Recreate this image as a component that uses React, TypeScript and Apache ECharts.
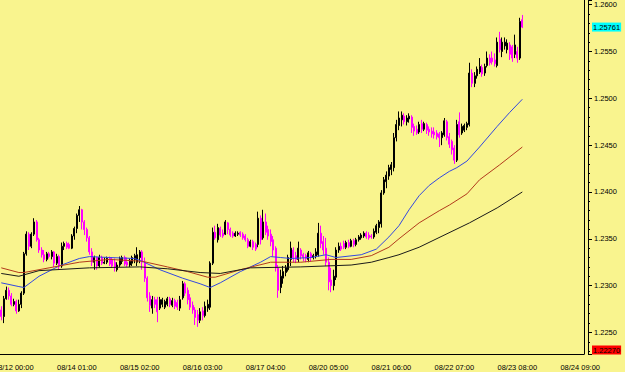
import React, { useEffect, useRef } from "react";
import * as echarts from "echarts";

// x-axis: hourly bars (index), labelled every 25 bars
const barCount = 232;
const timeLabels = ["08/12 00:00", "08/14 01:00", "08/15 02:00", "08/16 03:00", "08/17 04:00", "08/20 05:00", "08/21 06:00", "08/22 07:00", "08/23 08:00", "08/24 09:00"];
const labelBars = [5, 30, 55, 80, 105, 130, 155, 180, 205, 230];
const minorTickBars = [11, 17, 24, 36, 42, 49, 61, 67, 74, 86, 92, 99, 111, 117, 124, 136, 142, 149, 161, 167, 174, 186, 192, 199, 211, 217, 224];

// price axis
const priceMin = 1.2227;
const priceMax = 1.2605;
const lastPrice = 1.25761;
const alertPrice = 1.2227;
const alertText = "1.22270";

// [open, close, low, high]
const ohlc: number[][] = [
  [1.2274,1.2267,1.2263,1.2278],[1.2267,1.2286,1.2260,1.2289],[1.2286,1.2295,1.2285,1.2299],[1.2295,1.2289,1.2285,1.2298],
  [1.2289,1.2280,1.2278,1.2292],[1.2280,1.2283,1.2278,1.2286],[1.2283,1.2273,1.2270,1.2285],[1.2273,1.2280,1.2272,1.2285],
  [1.2280,1.2292,1.2276,1.2294],[1.2292,1.2334,1.2290,1.2336],[1.2334,1.2355,1.2332,1.2358],[1.2355,1.2342,1.2338,1.2357],
  [1.2342,1.2355,1.2340,1.2357],[1.2355,1.2368,1.2353,1.2372],[1.2368,1.2349,1.2347,1.2370],[1.2349,1.2338,1.2335,1.2351],
  [1.2338,1.2333,1.2330,1.2341],[1.2333,1.2328,1.2325,1.2338],[1.2328,1.2334,1.2326,1.2336],[1.2334,1.2331,1.2329,1.2336],
  [1.2331,1.2336,1.2328,1.2338],[1.2336,1.2324,1.2320,1.2337],[1.2324,1.2331,1.2322,1.2334],[1.2331,1.2321,1.2317,1.2333],
  [1.2321,1.2342,1.2319,1.2346],[1.2342,1.2345,1.2338,1.2347],[1.2345,1.2341,1.2339,1.2347],[1.2344,1.2340,1.2339,1.2346],
  [1.2340,1.2353,1.2339,1.2355],[1.2353,1.2361,1.2349,1.2363],[1.2361,1.2375,1.2356,1.2377],[1.2375,1.2381,1.2368,1.2385],
  [1.2381,1.2368,1.2360,1.2382],[1.2368,1.2360,1.2354,1.2370],[1.2360,1.2351,1.2347,1.2362],[1.2351,1.2336,1.2333,1.2353],
  [1.2336,1.2325,1.2321,1.2340],[1.2325,1.2330,1.2317,1.2332],[1.2330,1.2321,1.2317,1.2331],[1.2321,1.2330,1.2319,1.2333],
  [1.2330,1.2324,1.2322,1.2332],[1.2324,1.2325,1.2323,1.2330],[1.2325,1.2329,1.2323,1.2331],[1.2329,1.2323,1.2321,1.2331],
  [1.2328,1.2321,1.2319,1.2330],[1.2325,1.2319,1.2315,1.2329],[1.2317,1.2322,1.2315,1.2325],[1.2322,1.2329,1.2320,1.2331],
  [1.2326,1.2330,1.2323,1.2332],[1.2330,1.2323,1.2321,1.2332],[1.2325,1.2322,1.2320,1.2330],[1.2322,1.2326,1.2320,1.2329],
  [1.2324,1.2330,1.2321,1.2332],[1.2328,1.2332,1.2324,1.2334],[1.2325,1.2333,1.2321,1.2341],[1.2330,1.2336,1.2324,1.2338],
  [1.2336,1.2325,1.2317,1.2338],[1.2325,1.2308,1.2304,1.2330],[1.2308,1.2287,1.2283,1.2310],[1.2289,1.2279,1.2272,1.2293],
  [1.2276,1.2285,1.2270,1.2289],[1.2285,1.2280,1.2276,1.2288],[1.2285,1.2272,1.2261,1.2288],[1.2276,1.2285,1.2274,1.2288],
  [1.2280,1.2285,1.2277,1.2287],[1.2277,1.2283,1.2275,1.2285],[1.2280,1.2286,1.2278,1.2288],[1.2286,1.2280,1.2277,1.2288],
  [1.2279,1.2284,1.2277,1.2287],[1.2284,1.2278,1.2275,1.2286],[1.2282,1.2277,1.2274,1.2285],[1.2276,1.2285,1.2273,1.2289],
  [1.2287,1.2302,1.2285,1.2305],[1.2302,1.2292,1.2289,1.2304],[1.2295,1.2285,1.2280,1.2298],[1.2287,1.2277,1.2274,1.2291],
  [1.2279,1.2274,1.2270,1.2283],[1.2274,1.2266,1.2258,1.2277],[1.2269,1.2263,1.2256,1.2274],[1.2263,1.2272,1.2260,1.2276],
  [1.2273,1.2268,1.2263,1.2277],[1.2268,1.2278,1.2266,1.2283],[1.2276,1.2280,1.2272,1.2285],[1.2277,1.2324,1.2274,1.2326],
  [1.2324,1.2357,1.2322,1.2362],[1.2357,1.2351,1.2349,1.2364],[1.2349,1.2362,1.2346,1.2366],[1.2361,1.2354,1.2352,1.2363],
  [1.2356,1.2353,1.2351,1.2360],[1.2355,1.2368,1.2354,1.2370],[1.2367,1.2360,1.2355,1.2368],[1.2360,1.2354,1.2352,1.2362],
  [1.2356,1.2353,1.2351,1.2358],[1.2353,1.2356,1.2352,1.2358],[1.2355,1.2356,1.2353,1.2358],[1.2357,1.2354,1.2352,1.2358],
  [1.2355,1.2351,1.2349,1.2357],[1.2353,1.2349,1.2347,1.2355],[1.2349,1.2342,1.2340,1.2351],[1.2342,1.2347,1.2341,1.2349],
  [1.2347,1.2341,1.2338,1.2349],[1.2344,1.2339,1.2337,1.2346],[1.2344,1.2372,1.2341,1.2379],[1.2372,1.2349,1.2344,1.2375],
  [1.2351,1.2368,1.2349,1.2381],[1.2368,1.2357,1.2354,1.2377],[1.2360,1.2353,1.2349,1.2364],[1.2355,1.2347,1.2342,1.2360],
  [1.2349,1.2338,1.2331,1.2353],[1.2340,1.2319,1.2315,1.2342],[1.2319,1.2295,1.2287,1.2322],[1.2298,1.2310,1.2292,1.2317],
  [1.2308,1.2315,1.2302,1.2321],[1.2314,1.2319,1.2310,1.2322],[1.2317,1.2330,1.2315,1.2333],[1.2328,1.2340,1.2321,1.2347],
  [1.2338,1.2330,1.2325,1.2341],[1.2332,1.2328,1.2324,1.2336],[1.2328,1.2340,1.2325,1.2347],[1.2338,1.2332,1.2328,1.2340],
  [1.2333,1.2330,1.2326,1.2335],[1.2332,1.2329,1.2325,1.2334],[1.2328,1.2335,1.2325,1.2337],[1.2334,1.2330,1.2326,1.2336],
  [1.2330,1.2332,1.2328,1.2334],[1.2331,1.2336,1.2329,1.2340],[1.2333,1.2356,1.2331,1.2367],[1.2356,1.2345,1.2340,1.2364],
  [1.2347,1.2338,1.2333,1.2353],[1.2340,1.2325,1.2321,1.2351],[1.2325,1.2304,1.2295,1.2330],[1.2306,1.2300,1.2293,1.2319],
  [1.2300,1.2310,1.2295,1.2317],[1.2309,1.2338,1.2306,1.2341],[1.2338,1.2342,1.2335,1.2346],[1.2342,1.2339,1.2337,1.2346],
  [1.2345,1.2341,1.2339,1.2348],[1.2341,1.2346,1.2339,1.2348],[1.2346,1.2342,1.2340,1.2349],[1.2342,1.2348,1.2341,1.2350],
  [1.2348,1.2344,1.2341,1.2350],[1.2344,1.2349,1.2342,1.2351],[1.2349,1.2352,1.2347,1.2354],[1.2351,1.2354,1.2349,1.2356],
  [1.2353,1.2356,1.2351,1.2358],[1.2356,1.2352,1.2350,1.2358],[1.2354,1.2351,1.2349,1.2357],[1.2353,1.2352,1.2350,1.2355],
  [1.2352,1.2358,1.2350,1.2361],[1.2357,1.2364,1.2355,1.2366],[1.2362,1.2368,1.2356,1.2370],[1.2366,1.2399,1.2362,1.2402],
  [1.2399,1.2413,1.2397,1.2416],[1.2411,1.2418,1.2404,1.2422],[1.2417,1.2426,1.2413,1.2429],[1.2424,1.2429,1.2418,1.2432],
  [1.2426,1.2458,1.2422,1.2463],[1.2458,1.2472,1.2454,1.2477],[1.2471,1.2479,1.2466,1.2486],[1.2477,1.2482,1.2470,1.2486],
  [1.2481,1.2475,1.2472,1.2484],[1.2475,1.2479,1.2471,1.2482],[1.2478,1.2481,1.2474,1.2484],[1.2480,1.2469,1.2463,1.2482],
  [1.2470,1.2465,1.2460,1.2473],[1.2467,1.2463,1.2461,1.2471],[1.2464,1.2472,1.2462,1.2475],[1.2473,1.2467,1.2463,1.2477],
  [1.2467,1.2473,1.2465,1.2475],[1.2472,1.2466,1.2462,1.2474],[1.2467,1.2464,1.2460,1.2470],[1.2465,1.2462,1.2458,1.2469],
  [1.2464,1.2461,1.2457,1.2469],[1.2463,1.2459,1.2456,1.2466],[1.2462,1.2458,1.2448,1.2464],[1.2458,1.2463,1.2450,1.2465],
  [1.2461,1.2476,1.2459,1.2479],[1.2475,1.2458,1.2455,1.2477],[1.2459,1.2451,1.2447,1.2463],[1.2454,1.2445,1.2440,1.2456],
  [1.2447,1.2434,1.2430,1.2450],[1.2434,1.2472,1.2432,1.2477],[1.2475,1.2461,1.2458,1.2485],[1.2463,1.2470,1.2461,1.2473],
  [1.2466,1.2471,1.2464,1.2473],[1.2469,1.2473,1.2466,1.2475],[1.2472,1.2527,1.2470,1.2538],[1.2527,1.2516,1.2512,1.2531],
  [1.2516,1.2524,1.2512,1.2528],[1.2524,1.2531,1.2521,1.2534],[1.2528,1.2534,1.2526,1.2543],[1.2533,1.2526,1.2523,1.2536],
  [1.2527,1.2534,1.2524,1.2537],[1.2535,1.2543,1.2533,1.2550],[1.2543,1.2538,1.2535,1.2547],[1.2543,1.2539,1.2536,1.2550],
  [1.2541,1.2537,1.2534,1.2548],[1.2535,1.2560,1.2533,1.2565],[1.2563,1.2552,1.2549,1.2571],[1.2550,1.2560,1.2544,1.2565],
  [1.2556,1.2560,1.2552,1.2565],[1.2552,1.2559,1.2548,1.2563],[1.2557,1.2547,1.2541,1.2560],[1.2555,1.2543,1.2539,1.2557],
  [1.2547,1.2557,1.2543,1.2568],[1.2550,1.2543,1.2538,1.2555],[1.2543,1.2582,1.2541,1.2586],[1.2584,1.25761,1.2575,1.2589],
];

// moving averages, sampled as [bar index, price]
const maBlue: number[][] = [
  [0,1.2303],[7,1.2299],[9,1.2298],[15,1.2310],[23,1.2321],[31,1.2329],[35,1.2331],[43,1.2330],[53,1.2329],[56,1.2326],
  [63,1.2317],[72,1.2308],[79,1.2302],[83,1.2298],[87,1.2303],[95,1.2315],[103,1.2325],[107,1.2331],[111,1.2330],[115,1.2329],
  [123,1.2330],[129,1.2333],[133,1.2330],[143,1.2333],[149,1.2339],[154,1.2352],[158,1.2364],[162,1.2381],[166,1.2396],
  [170,1.2407],[174,1.2415],[178,1.2422],[181,1.2426],[185,1.2433],[190,1.2448],[197,1.2470],[202,1.2485],[207,1.2499],
];
const maRed: number[][] = [
  [0,1.2319],[7,1.2314],[9,1.2314],[19,1.2319],[31,1.2325],[43,1.2328],[56,1.2326],[66,1.2320],[74,1.2315],[82,1.2309],
  [85,1.2309],[95,1.2317],[107,1.2325],[119,1.2325],[131,1.2328],[139,1.2328],[147,1.2332],[154,1.2341],[158,1.2350],
  [166,1.2367],[174,1.2380],[178,1.2386],[185,1.2398],[190,1.2413],[198,1.2429],[207,1.2448],
];
const maBlack: number[][] = [
  [0,1.2313],[7,1.2310],[15,1.2316],[35,1.2319],[55,1.2320],[66,1.2318],[79,1.2314],[87,1.2313],[99,1.2319],[119,1.2320],
  [139,1.2322],[147,1.2325],[154,1.2330],[158,1.2333],[166,1.2341],[186,1.2367],[197,1.2383],[207,1.2400],
];

export default function App() {
  const ref = useRef<HTMLDivElement>(null);
  useEffect(() => {
    document.body.style.margin = "0";
    const chart = echarts.init(ref.current as HTMLDivElement, null, { renderer: "svg" });
    const categories = Array.from({ length: barCount }, (_, i) => String(i));
    const font = "'Liberation Sans', Arial, sans-serif";
    const isLabelBar = (i: number) => labelBars.indexOf(i) >= 0;
    const isMinorBar = (i: number) => minorTickBars.indexOf(i) >= 0;
    const line = (data: number[][], color: string) => ({
      type: "line",
      data,
      showSymbol: false,
      symbol: "none",
      silent: true,
      z: 5,
      lineStyle: { color, width: 1 },
    });
    chart.setOption({
      animation: false,
      backgroundColor: "#f9f48e",
      grid: { left: 0, top: 0, width: 584, height: 354, show: false, containLabel: false, outerBoundsMode: "none" },
      xAxis: [
        {
          type: "category",
          data: categories,
          boundaryGap: true,
          axisLine: { lineStyle: { color: "#000", width: 1 } },
          axisTick: { alignWithLabel: true, length: 5, interval: (i: number) => isLabelBar(i), lineStyle: { color: "#000" } },
          axisLabel: {
            interval: (i: number) => isLabelBar(i),
            formatter: (v: string) => timeLabels[labelBars.indexOf(Number(v))] || "",
            color: "#000",
            fontSize: 7.5,
            fontFamily: font,
            margin: 9,
          },
          splitLine: { show: false },
        },
        {
          type: "category",
          data: categories,
          position: "bottom",
          offset: 0,
          boundaryGap: true,
          axisLine: { show: false },
          axisTick: { alignWithLabel: true, length: 3, interval: (i: number) => isMinorBar(i), lineStyle: { color: "#000" } },
          axisLabel: { show: false },
          splitLine: { show: false },
        },
      ],
      yAxis: [
        {
          type: "value",
          position: "right",
          offset: 4,
          min: priceMin,
          max: priceMax,
          splitNumber: 8,
          axisLine: { show: true, lineStyle: { color: "#000" } },
          axisTick: { show: true, length: 4, lineStyle: { color: "#000" } },
          minorTick: { show: true, splitNumber: 5, length: 2, lineStyle: { color: "#000" } },
          axisLabel: {
            color: "#000",
            fontSize: 7.5,
            fontFamily: font,
            margin: 6,
            showMinLabel: false,
            showMaxLabel: false,
            formatter: (v: number) => v.toFixed(4),
          },
          splitLine: { show: false },
        },
        {
          type: "value",
          position: "right",
          offset: 0,
          min: 0,
          max: 1,
          axisLine: { show: true, lineStyle: { color: "#000" } },
          axisTick: { show: false },
          axisLabel: { show: false },
          splitLine: { show: false },
        },
      ],
      series: [
        {
          type: "candlestick",
          data: ohlc,
          barWidth: 1.5,
          z: 3,
          itemStyle: {
            color: "#000000",
            color0: "#ff00ff",
            borderColor: "#000000",
            borderColor0: "#ff00ff",
            borderWidth: 1,
          },
        },
        line(maBlue, "#3348e0"),
        line(maRed, "#b23a1c"),
        line(maBlack, "#1a1a1a"),
      ],
    });

    // price tags on the right scale, positioned through the y axis
    const tagY = (v: number) => chart.convertToPixel({ yAxisIndex: 0 }, v) as number;
    const tag = (text: string, y: number, bg: string) => ({
      type: "text",
      x: 592,
      y,
      z: 100,
      style: {
        text,
        fill: "#000",
        backgroundColor: bg,
        font: `7.5px ${font}`,
        padding: [1, 1, 0, 1],
        verticalAlign: "middle",
        align: "left",
      },
    });
    const lastY = tagY(lastPrice);
    const alertY = Math.min(tagY(alertPrice), 354) - 4;
    chart.setOption({
      graphic: [tag(lastPrice.toFixed(5), lastY, "#00ffff"), tag(alertText, alertY, "#ff0000")],
    });
    return () => chart.dispose();
  }, []);
  return <div ref={ref} style={{ position: "absolute", left: 0, top: 0, width: 625, height: 372 }} />;
}
